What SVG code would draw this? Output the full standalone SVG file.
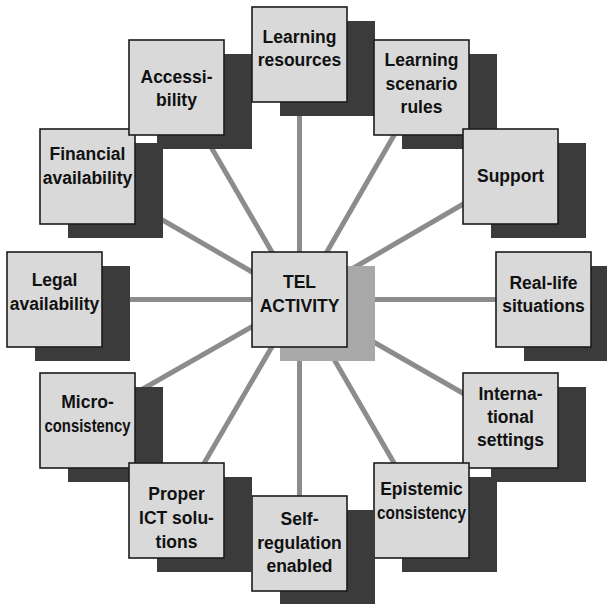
<svg xmlns="http://www.w3.org/2000/svg" width="607" height="604" viewBox="0 0 607 604">
<style>
.sh{fill:#3b3b3b}
.shc{fill:#a8a8a8}
.bx{fill:#d9d9d9;stroke:#1c1c1c;stroke-width:1.6}
.t{font-family:"Liberation Sans",Arial,sans-serif;font-weight:bold;font-size:17.5px;fill:#111;text-anchor:middle}
.ln{stroke:#8c8c8c;stroke-width:5;fill:none}
</style>
<rect width="607" height="604" fill="#fff"/>
<g id="connectors">
<line class="ln" x1="299.5" y1="299.5" x2="299.5" y2="54.5"/>
<line class="ln" x1="299.5" y1="299.5" x2="421.5" y2="87.5"/>
<line class="ln" x1="299.5" y1="299.5" x2="510.5" y2="176.5"/>
<line class="ln" x1="299.5" y1="299.5" x2="543.5" y2="299.5"/>
<line class="ln" x1="299.5" y1="299.5" x2="510.5" y2="420.5"/>
<line class="ln" x1="299.5" y1="299.5" x2="421.5" y2="510.5"/>
<line class="ln" x1="299.5" y1="299.5" x2="299.5" y2="543.5"/>
<line class="ln" x1="299.5" y1="299.5" x2="176.5" y2="510.5"/>
<line class="ln" x1="299.5" y1="299.5" x2="87.5" y2="420.5"/>
<line class="ln" x1="299.5" y1="299.5" x2="54.5" y2="299.5"/>
<line class="ln" x1="299.5" y1="299.5" x2="87.5" y2="176.5"/>
<line class="ln" x1="299.5" y1="299.5" x2="176.5" y2="87.5"/>
</g>
<g id="financial">
<rect class="sh" x="68" y="143" width="95" height="95"/>
<rect class="bx" x="40" y="129" width="95" height="95"/>
<text class="t" x="87.5" y="160">Financial</text>
<text class="t" x="87.5" y="183.5">availability</text>
</g>
<g id="accessibility">
<rect class="sh" x="157" y="54" width="95" height="95"/>
<rect class="bx" x="129" y="40" width="95" height="95"/>
<text class="t" x="176.5" y="82.5">Accessi-</text>
<text class="t" x="176.5" y="106">bility</text>
</g>
<g id="learning-resources">
<rect class="sh" x="280" y="21" width="95" height="95"/>
<rect class="bx" x="252" y="7" width="95" height="95"/>
<text class="t" x="299.5" y="42.5">Learning</text>
<text class="t" x="299.5" y="66">resources</text>
</g>
<g id="learning-scenario-rules">
<rect class="sh" x="402" y="54" width="95" height="95"/>
<rect class="bx" x="374" y="40" width="95" height="95"/>
<text class="t" x="421.5" y="66">Learning</text>
<text class="t" x="421.5" y="89.5">scenario</text>
<text class="t" x="421.5" y="113">rules</text>
</g>
<g id="support">
<rect class="sh" x="491" y="143" width="95" height="95"/>
<rect class="bx" x="463" y="129" width="95" height="95"/>
<text class="t" x="510.5" y="182">Support</text>
</g>
<g id="real-life">
<rect class="sh" x="524" y="266" width="95" height="95"/>
<rect class="bx" x="496" y="252" width="95" height="95"/>
<text class="t" x="543.5" y="288.5">Real-life</text>
<text class="t" x="543.5" y="312">situations</text>
</g>
<g id="international">
<rect class="sh" x="491" y="387" width="95" height="95"/>
<rect class="bx" x="463" y="373" width="95" height="95"/>
<text class="t" x="510.5" y="400">Interna-</text>
<text class="t" x="510.5" y="423">tional</text>
<text class="t" x="510.5" y="446">settings</text>
</g>
<g id="epistemic">
<rect class="sh" x="402" y="477" width="95" height="95"/>
<rect class="bx" x="374" y="463" width="95" height="95"/>
<text class="t" x="421.5" y="495">Epistemic</text>
<text class="t" x="421.5" y="519" textLength="89" lengthAdjust="spacingAndGlyphs">consistency</text>
</g>
<g id="self-regulation">
<rect class="sh" x="280" y="510" width="95" height="95"/>
<rect class="bx" x="252" y="496" width="95" height="95"/>
<text class="t" x="299.5" y="525">Self-</text>
<text class="t" x="299.5" y="548.5">regulation</text>
<text class="t" x="299.5" y="572">enabled</text>
</g>
<g id="legal">
<rect class="sh" x="35" y="266" width="95" height="95"/>
<rect class="bx" x="7" y="252" width="95" height="95"/>
<text class="t" x="54.5" y="286">Legal</text>
<text class="t" x="54.5" y="309.5">availability</text>
</g>
<g id="micro">
<rect class="sh" x="68" y="387" width="95" height="95"/>
<rect class="bx" x="40" y="373" width="95" height="95"/>
<text class="t" x="87.5" y="407.5">Micro-</text>
<text class="t" x="87.5" y="431.5" textLength="86" lengthAdjust="spacingAndGlyphs">consistency</text>
</g>
<g id="proper-ict">
<rect class="sh" x="157" y="477" width="95" height="95"/>
<rect class="bx" x="129" y="463" width="95" height="95"/>
<text class="t" x="176.5" y="500">Proper</text>
<text class="t" x="176.5" y="524">ICT solu-</text>
<text class="t" x="176.5" y="547.5">tions</text>
</g>
<g id="tel-activity">
<rect class="shc" x="280" y="266" width="95" height="95"/>
<rect class="bx" x="252" y="252" width="95" height="95"/>
<text class="t" x="299.5" y="287.5">TEL</text>
<text class="t" x="299.5" y="311.5">ACTIVITY</text>
</g>
</svg>
